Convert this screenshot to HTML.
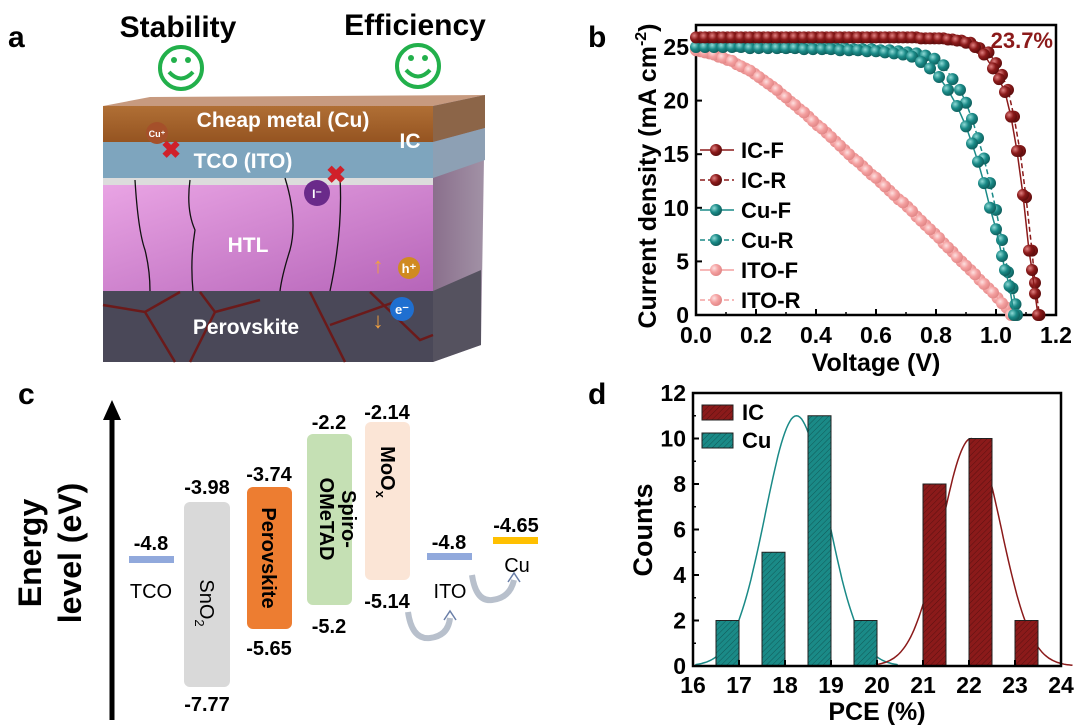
<!DOCTYPE html>
<html><head><meta charset="utf-8"><style>
html,body{margin:0;padding:0;background:#fff;}
svg{display:block;font-family:"Liberation Sans",Arial,sans-serif;font-weight:bold;}
</style></head><body>
<svg id="fig" width="1080" height="728" viewBox="0 0 1080 728" xmlns="http://www.w3.org/2000/svg">
<defs>
<linearGradient id="htlg" x1="0" y1="0" x2="1" y2="1"><stop offset="0" stop-color="#e9a4e4"/><stop offset="1" stop-color="#b665b9"/></linearGradient>
<linearGradient id="cug" x1="0" y1="0" x2="0" y2="1"><stop offset="0" stop-color="#b06f35"/><stop offset="1" stop-color="#955421"/></linearGradient>
<linearGradient id="sideg" x1="0" y1="0" x2="1" y2="0"><stop offset="0" stop-color="#8a6f8c"/><stop offset="1" stop-color="#a292a6"/></linearGradient>
<pattern id="hatch" width="4" height="4" patternUnits="userSpaceOnUse" patternTransform="rotate(45)"><line x1="0" y1="0" x2="0" y2="4" stroke="#000" stroke-opacity="0.35" stroke-width="1"/></pattern>
<radialGradient id="sIC" cx="0.35" cy="0.35" r="0.7"><stop offset="0" stop-color="#e08080"/><stop offset="0.5" stop-color="#8b1a1a"/><stop offset="1" stop-color="#5a0c0c"/></radialGradient>
<radialGradient id="sCu" cx="0.35" cy="0.35" r="0.7"><stop offset="0" stop-color="#8fdad6"/><stop offset="0.5" stop-color="#1a8a87"/><stop offset="1" stop-color="#0e5b59"/></radialGradient>
<radialGradient id="sITO" cx="0.35" cy="0.35" r="0.7"><stop offset="0" stop-color="#fde0e0"/><stop offset="0.5" stop-color="#f4a0a0"/><stop offset="1" stop-color="#e08585"/></radialGradient>
</defs>

<!-- Panel a -->
<g>
<text x="8" y="47" font-size="30">a</text>
<text x="178" y="37" font-size="30" text-anchor="middle">Stability</text>
<text x="415" y="35" font-size="30" text-anchor="middle">Efficiency</text>
<g fill="none" stroke="#22b04b" stroke-width="4">
<circle cx="181" cy="68" r="21"/><path d="M169 72 Q181 85 193 72"/><circle cx="174" cy="60" r="3" fill="#22b04b" stroke="none"/><circle cx="188" cy="60" r="3" fill="#22b04b" stroke="none"/></g>
<g fill="none" stroke="#22b04b" stroke-width="4">
<circle cx="418" cy="66" r="21"/><path d="M406 70 Q418 83 430 70"/><circle cx="411" cy="58" r="3" fill="#22b04b" stroke="none"/><circle cx="425" cy="58" r="3" fill="#22b04b" stroke="none"/></g>
<polygon points="103,106 150,97 485,95 433,106" fill="#c79a7f"/>
<polygon points="433,106 485,95 481,345 433,362" fill="url(#sideg)"/>
<polygon points="433,106 485,95 485,128 433,142" fill="#8c6548"/>
<polygon points="433,142 485,128 485,160 433,178" fill="#8da0b4"/>
<polygon points="433,291 481,270 481,345 433,362" fill="#55525f"/>
<rect x="103" y="106" width="330" height="36" fill="url(#cug)"/>
<rect x="103" y="142" width="330" height="36" fill="#7ea5be"/>
<rect x="103" y="178" width="330" height="7" fill="#dcdcdc"/>
<rect x="103" y="185" width="330" height="106" fill="url(#htlg)"/>
<rect x="103" y="291" width="330" height="71" fill="#4a4858"/>
<g stroke="#6b1a1a" stroke-width="2.5" fill="none">
<path d="M103 305 L145 312 L180 292 M145 312 L175 362 M200 292 L215 312 L190 362 M215 312 L260 300 M310 292 L345 362 M330 325 L400 300 M370 292 L420 340 L433 335"/>
</g>
<g stroke="#111" stroke-width="1.3" fill="none">
<path d="M135 180 Q138 230 145 250 Q150 270 150 291"/><path d="M190 180 Q186 210 195 230 Q190 260 193 291"/>
<path d="M285 178 Q298 220 290 250 Q282 275 280 291"/><path d="M340 178 Q343 230 330 291"/>
</g>
<text x="283" y="127" font-size="21" fill="#fff" text-anchor="middle">Cheap metal (Cu)</text>
<text x="410" y="148" font-size="21" fill="#fff" text-anchor="middle">IC</text>
<text x="243" y="168" font-size="21" fill="#fff" text-anchor="middle">TCO (ITO)</text>
<text x="248" y="252" font-size="21" fill="#fff" text-anchor="middle">HTL</text>
<text x="246" y="334" font-size="21" fill="#fff" text-anchor="middle">Perovskite</text>
<circle cx="157" cy="133" r="11" fill="#a5502a"/><text x="157" y="137" font-size="9" fill="#fff" text-anchor="middle">Cu⁺</text>
<text x="171" y="158" font-size="24" fill="#d0202a" text-anchor="middle">✖</text>
<circle cx="317" cy="193" r="13" fill="#6a2a8a"/><text x="317" y="198" font-size="12" fill="#fff" text-anchor="middle">I⁻</text>
<text x="336" y="183" font-size="24" fill="#d0202a" text-anchor="middle">✖</text>
<text x="378" y="273" font-size="22" fill="#f0a040" text-anchor="middle">↑</text>
<circle cx="409" cy="268" r="11" fill="#d08a20"/><text x="409" y="273" font-size="13" fill="#fff" text-anchor="middle">h⁺</text>
<text x="378" y="328" font-size="22" fill="#f0a040" text-anchor="middle">↓</text>
<circle cx="402" cy="309" r="12" fill="#1f6fd0"/><text x="402" y="314" font-size="13" fill="#fff" text-anchor="middle">e⁻</text>
</g>

<!-- Panel c -->
<g>
<text x="18" y="404" font-size="30">c</text>
<line x1="112" y1="720" x2="112" y2="418" stroke="#000" stroke-width="5"/>
<polygon points="103,420 121,420 112,400" fill="#000"/>
<text transform="translate(50,553) rotate(-90)" font-size="32" text-anchor="middle"><tspan x="0" dy="-9">Energy</tspan><tspan x="0" dy="40">level (eV)</tspan></text>
<g font-size="20" text-anchor="middle" font-weight="bold">
<rect x="129" y="556" width="45" height="7" fill="#91a9dc"/>
<text x="151" y="550">-4.8</text><text x="151" y="598" font-weight="normal">TCO</text>
<rect x="184" y="502" width="46" height="185" rx="6" fill="#d9d9d9"/>
<text x="207" y="494">-3.98</text><text x="207" y="711">-7.77</text>
<text transform="translate(200,603) rotate(90)" font-size="20" font-weight="normal" text-anchor="middle">SnO<tspan font-size="13" dy="5">2</tspan></text>
<rect x="247" y="487" width="45" height="142" rx="6" fill="#ed7d31"/>
<text x="269" y="481">-3.74</text><text x="269" y="655">-5.65</text>
<text transform="translate(262,558) rotate(90)" font-size="20" text-anchor="middle">Perovskite</text>
<rect x="307" y="434" width="45" height="171" rx="6" fill="#c5e0b4"/>
<text x="329" y="429">-2.2</text><text x="329" y="633">-5.2</text>
<text transform="translate(329,519) rotate(90)" font-size="20" text-anchor="middle"><tspan x="0" dy="-13">Spiro-</tspan><tspan x="0" dy="22">OMeTAD</tspan></text>
<rect x="365" y="422" width="45" height="158" rx="6" fill="#fbe5d6"/>
<text x="387" y="419">-2.14</text><text x="387" y="608">-5.14</text>
<text transform="translate(381,472) rotate(90)" font-size="20" text-anchor="middle">MoO<tspan font-size="13" dy="5">x</tspan></text>
<rect x="427" y="553" width="45" height="7" fill="#91a9dc"/>
<text x="449" y="549">-4.8</text><text x="450" y="598" font-weight="normal">ITO</text>
<rect x="493" y="537" width="45" height="7" fill="#ffc000"/>
<text x="516" y="532">-4.65</text><text x="517" y="572" font-weight="normal">Cu</text>
</g>
<g fill="none" stroke="#6a7fa8" stroke-width="1.5">
<path d="M408 612 Q412 640 430 638 Q448 636 450 618" stroke-width="6" stroke="#b8c0cc"/>
<path d="M444 620 L450 611 L456 620" /><path d="M472 575 Q476 602 492 600 Q510 598 514 580" stroke-width="6" stroke="#b8c0cc"/>
<path d="M508 582 L514 573 L520 582"/>
</g>
</g>

<g id="panelB">
<text x="588" y="47" font-size="30">b</text>
</g>
<g id="panelD">
<text x="588" y="404" font-size="30">d</text>
</g>
</svg>
<script>
// ---- Panel b data ----
const icFV=[0,0.03,0.06,0.09,0.12,0.15,0.18,0.21,0.24,0.27,0.3,0.33,0.36,0.39,0.42,0.45,0.48,0.51,0.54,0.57,0.6,0.63,0.66,0.69,0.72,0.75,0.78,0.81,0.84,0.87,0.9,0.93,0.96,0.99,1.01,1.03,1.05,1.07,1.09,1.11,1.12,1.13,1.14];
const icFJ=[25.9,25.9,25.9,25.9,25.9,25.9,25.9,25.9,25.9,25.9,25.9,25.9,25.9,25.9,25.9,25.9,25.9,25.9,25.9,25.9,25.9,25.9,25.9,25.9,25.9,25.8,25.8,25.8,25.7,25.6,25.4,25.0,24.3,23.0,22.0,20.8,18.5,15.3,11.2,6.0,4.2,2.0,0];
const icRV=[0.015,0.045,0.075,0.105,0.135,0.165,0.195,0.225,0.255,0.285,0.315,0.345,0.375,0.405,0.435,0.465,0.495,0.525,0.555,0.585,0.615,0.645,0.675,0.705,0.735,0.765,0.795,0.825,0.855,0.885,0.915,0.945,0.975,1.0,1.02,1.04,1.06,1.08,1.1,1.12,1.13,1.145];
const icRJ=[25.9,25.9,25.9,25.9,25.9,25.9,25.9,25.9,25.9,25.9,25.9,25.9,25.9,25.9,25.9,25.9,25.9,25.9,25.9,25.9,25.9,25.9,25.9,25.9,25.9,25.8,25.8,25.8,25.7,25.6,25.4,24.9,24.5,23.5,22.4,21.0,18.5,15.3,11.0,6.0,3.0,0];
const cuFV=[0,0.03,0.06,0.09,0.12,0.15,0.18,0.21,0.24,0.27,0.3,0.33,0.36,0.39,0.42,0.45,0.48,0.51,0.54,0.57,0.6,0.63,0.66,0.69,0.72,0.75,0.78,0.81,0.84,0.87,0.9,0.92,0.94,0.96,0.98,1.0,1.02,1.03,1.045,1.06];
const cuFJ=[25.0,25.0,25.0,25.0,25.0,25.0,24.9,24.9,24.9,24.9,24.9,24.9,24.8,24.8,24.8,24.8,24.7,24.7,24.7,24.6,24.6,24.5,24.4,24.3,24.1,23.6,23.0,22.2,21.0,19.5,17.6,16.0,14.3,12.3,10.0,8.0,5.5,4.2,2.7,0];
const cuRV=[0.015,0.045,0.075,0.105,0.135,0.165,0.195,0.225,0.255,0.285,0.315,0.345,0.375,0.405,0.435,0.465,0.495,0.525,0.555,0.585,0.615,0.645,0.675,0.705,0.735,0.765,0.795,0.825,0.855,0.88,0.9,0.92,0.94,0.96,0.98,1.0,1.02,1.04,1.055,1.065,1.07];
const cuRJ=[25.2,25.2,25.2,25.2,25.1,25.1,25.1,25.1,25.1,25.0,25.0,25.0,25.0,25.0,24.9,24.9,24.9,24.8,24.8,24.8,24.7,24.7,24.6,24.5,24.4,24.2,23.9,23.3,22.0,21.0,19.8,18.3,16.5,14.6,12.3,9.8,7.0,4.0,2.5,1.0,0];
const itoFV=[0,0.03,0.06,0.09,0.12,0.15,0.18,0.21,0.24,0.27,0.3,0.33,0.36,0.39,0.42,0.45,0.48,0.51,0.54,0.57,0.6,0.63,0.66,0.69,0.72,0.75,0.78,0.81,0.84,0.87,0.9,0.93,0.96,0.99,1.02,1.05];
const itoFJ=[24.7,24.5,24.3,24.0,23.7,23.2,22.8,22.2,21.6,21.0,20.3,19.6,18.9,18.1,17.4,16.6,15.8,15.0,14.3,13.5,12.8,12.0,11.2,10.5,9.7,8.8,8.0,7.2,6.3,5.4,4.6,3.8,2.9,2.1,1.1,0];
const itoRV=[0.015,0.045,0.075,0.105,0.135,0.165,0.195,0.225,0.255,0.285,0.315,0.345,0.375,0.405,0.435,0.465,0.495,0.525,0.555,0.585,0.615,0.645,0.675,0.705,0.735,0.765,0.795,0.825,0.855,0.885,0.915,0.945,0.975,1.005,1.035,1.06];
const itoRJ=[24.6,24.4,24.1,23.8,23.4,23.0,22.5,21.9,21.3,20.6,19.9,19.2,18.5,17.7,17.0,16.2,15.4,14.6,13.9,13.1,12.4,11.6,10.8,10.1,9.2,8.4,7.6,6.7,5.9,5.0,4.2,3.3,2.5,1.6,0.7,0];
const bXTicks=["0.0","0.2","0.4","0.6","0.8","1.0","1.2"];
const bYTicks=["0","5","10","15","20","25"];
const bLegend=["IC-F","IC-R","Cu-F","Cu-R","ITO-F","ITO-R"];
// ---- Panel d data ----
const pceBins=[16.5,17.5,18.5,19.5,21,22,23];
const pceCounts=[2,5,11,2,8,10,2];
const pceGroup=["Cu","Cu","Cu","Cu","IC","IC","IC"];
const fitMean=[18.25,22.05];
const fitSigma=[0.68,0.65];
const fitAmp=[11,10];
const fitGroup=["Cu","IC"];
const dXTicks=["16","17","18","19","20","21","22","23","24"];
const dYTicks=["0","2","4","6","8","10","12"];

const NS="http://www.w3.org/2000/svg";
function mk(parent,tag,attrs,text){const e=document.createElementNS(NS,tag);for(const k in attrs)e.setAttribute(k,attrs[k]);if(text!==undefined)e.textContent=text;parent.appendChild(e);return e;}

(function(){
const g=document.getElementById('panelB');
const L=696,R=1056,T=25,B=315;
const sx=v=>L+(v/1.2)*(R-L), sy=j=>B-(j/25)*(B-47);
const frame=mk(g,'rect',{x:L,y:T,width:R-L,height:B-T,fill:'none',stroke:'#000','stroke-width':2.5});


bXTicks.forEach((t,i)=>{const v=parseFloat(t),x=sx(v);
mk(g,'line',{x1:x,y1:B,x2:x,y2:B-6,stroke:'#000','stroke-width':2});
if(i<bXTicks.length-1)mk(g,'line',{x1:sx(v+0.1),y1:B,x2:sx(v+0.1),y2:B-3,stroke:'#000','stroke-width':1.5});
const tx=mk(g,'text',{x:x,y:343,'font-size':23,'text-anchor':'middle'},t);

});
bYTicks.forEach(t=>{const v=parseFloat(t),y=sy(v);
mk(g,'line',{x1:L,y1:y,x2:L+6,y2:y,stroke:'#000','stroke-width':2});
const ty=mk(g,'text',{x:689,y:y+8,'font-size':23,'text-anchor':'end'},t);

});
const xt=mk(g,'text',{x:876,y:371,'font-size':25,'text-anchor':'middle'},'Voltage (V)');


const yt=mk(g,'text',{transform:'translate(656,176) rotate(-90)','font-size':25,'text-anchor':'middle'});


yt.textContent='Current density (mA cm';
mk(yt,'tspan',{'font-size':16,dy:-10},'-2');mk(yt,'tspan',{dy:10},')');
const series=[[itoRV,itoRJ,'#f4a0a0','sITO',true],[itoFV,itoFJ,'#f4a0a0','sITO',false],[cuRV,cuRJ,'#1a8a87','sCu',true],[cuFV,cuFJ,'#1a8a87','sCu',false],[icRV,icRJ,'#8b1a1a','sIC',true],[icFV,icFJ,'#8b1a1a','sIC',false]];
const names=['ito-r','ito-f','cu-r','cu-f','ic-r','ic-f'];
series.forEach((s,k)=>{const sg=mk(g,'g',{});


const d=s[0].map((v,i)=>(i?'L':'M')+sx(v).toFixed(1)+' '+sy(s[1][i]).toFixed(1)).join(' ');
mk(sg,'path',{d:d,fill:'none',stroke:s[2],'stroke-width':1.5,'stroke-dasharray':s[4]?'5 3':'none'});
s[0].forEach((v,i)=>{const c=mk(sg,'circle',{cx:sx(v),cy:sy(s[1][i]),r:6,fill:'url(#'+s[3]+')'});

});});
const pc=mk(g,'text',{x:1053,y:48,'font-size':22,fill:'#8b1a1a','text-anchor':'end'},'23.7%');


const lc=['#8b1a1a','#8b1a1a','#1a8a87','#1a8a87','#f4a0a0','#f4a0a0'],lf=['sIC','sIC','sCu','sCu','sITO','sITO'];
bLegend.forEach((t,i)=>{const y=150+i*30;const lg=mk(g,'g',{});


mk(lg,'line',{x1:700,y1:y,x2:734,y2:y,stroke:lc[i],'stroke-width':1.5,'stroke-dasharray':i%2?'5 3':'none'});
mk(lg,'circle',{cx:716,cy:y,r:6,fill:'url(#'+lf[i]+')'});
mk(lg,'text',{x:741,y:y+8,'font-size':22},t);});
})();

(function(){
const g=document.getElementById('panelD');
const L=693,R=1061,T=393,B=666;
const sx=v=>L+(v-16)/8*(R-L), sy=c=>B-c/12*(B-T);
const col={Cu:'#1a8a87',IC:'#8b1a1a'};
fitGroup.forEach((grp,k)=>{let d='';for(let p=0;p<=120;p++){const x=fitMean[k]-2.2+p*4.4/120;const y=fitAmp[k]*Math.exp(-Math.pow(x-fitMean[k],2)/(2*fitSigma[k]*fitSigma[k]));d+=(p?'L':'M')+sx(x).toFixed(1)+' '+sy(y).toFixed(1)+' ';}
const c=mk(g,'path',{d:d,fill:'none',stroke:col[grp],'stroke-width':1.5});

});
pceBins.forEach((b,i)=>{const x0=sx(b),x1=sx(b+0.5),y=sy(pceCounts[i]);
const r=mk(g,'rect',{x:x0,y:y,width:x1-x0,height:B-y,fill:col[pceGroup[i]],stroke:'#222','stroke-width':1});


mk(g,'rect',{x:x0,y:y,width:x1-x0,height:B-y,fill:'url(#hatch)'});});
const fr=mk(g,'rect',{x:L,y:T,width:R-L,height:B-T,fill:'none',stroke:'#000','stroke-width':2.5});


dXTicks.forEach((t,i)=>{const v=parseFloat(t),x=sx(v);
mk(g,'line',{x1:x,y1:B,x2:x,y2:B-6,stroke:'#000','stroke-width':2});
const tx=mk(g,'text',{x:x,y:693,'font-size':23,'text-anchor':'middle'},t);

});
dYTicks.forEach((t,i)=>{const v=parseFloat(t),y=sy(v);
mk(g,'line',{x1:L,y1:y,x2:L+6,y2:y,stroke:'#000','stroke-width':2});
if(i<dYTicks.length-1)mk(g,'line',{x1:L,y1:sy(v+1),x2:L+3,y2:sy(v+1),stroke:'#000','stroke-width':1.5});
const ty=mk(g,'text',{x:686,y:y+8,'font-size':23,'text-anchor':'end'},t);

});
const xt=mk(g,'text',{x:877,y:720,'font-size':25,'text-anchor':'middle'},'PCE (%)');


const yt=mk(g,'text',{transform:'translate(652,530) rotate(-90)','font-size':27,'text-anchor':'middle'},'Counts');


[['IC',405],['Cu',433]].forEach(e=>{const lg=mk(g,'g',{});


mk(lg,'rect',{x:702,y:e[1],width:31,height:15,fill:col[e[0]],stroke:'#222'});
mk(lg,'rect',{x:702,y:e[1],width:31,height:15,fill:'url(#hatch)'});
mk(lg,'text',{x:742,y:e[1]+15,'font-size':22},e[0]);});
})();
</script>
</body></html>
